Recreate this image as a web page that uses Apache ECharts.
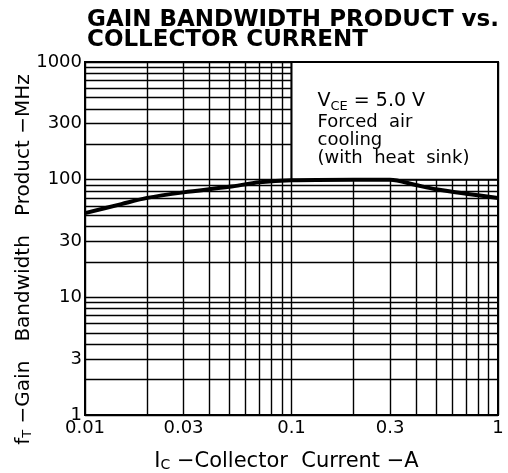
<!DOCTYPE html>
<html>
<head>
<meta charset="utf-8">
<script src="https://cdn.jsdelivr.net/npm/echarts@6/dist/echarts.min.js"></script>
<style>html,body{margin:0;padding:0;background:#fff}#c{width:508px;height:473px}</style>
</head>
<body>
<div id="c"></div>
<script>
// Data
var currentA = [0.01, 0.015, 0.02, 0.03, 0.05, 0.07, 0.1, 0.2, 0.3, 0.4, 0.5, 0.7, 1];
var ftMHz    = [52,   62,    70,   78,   87,   95,   99,  100, 100, 90,  83,  76,  70];
var xTickLabels = [0.01, 0.03, 0.1, 0.3, 1];
var yTickLabels = [1, 3, 10, 30, 100, 300, 1000];
var xGrid = [0.01,0.02,0.03,0.04,0.05,0.06,0.07,0.08,0.09,0.1,0.2,0.3,0.4,0.5,0.6,0.7,0.8,0.9,1];
var yGrid = [1,2,3,4,5,6,7,8,9,10,20,30,40,50,60,70,80,90,100,200,300,400,500,600,700,800,900,1000];
var noteBox = [[0.1, 100], [1, 1000]];

var FONT = 'DejaVu Sans';
var chart = echarts.init(document.getElementById('c'), null, {renderer: 'canvas'});
var gridLines = xGrid.map(function (v) { return {xAxis: v}; })
  .concat(yGrid.map(function (v) { return {yAxis: v}; }));

chart.setOption({
  animation: false,
  backgroundColor: '#fff',
  title: {
    text: 'GAIN BANDWIDTH PRODUCT vs.\nCOLLECTOR CURRENT',
    left: 82, top: 5,
    textStyle: {fontFamily: FONT, fontWeight: 'bold', fontSize: 23, lineHeight: 20, color: '#000'}
  },
  grid: {left: 85, right: 10, top: 62, bottom: 58, show: true, borderColor: '#000', borderWidth: 2,
    backgroundColor: '#fff', containLabel: false, outerBoundsMode: 'none'},
  xAxis: {
    type: 'log', logBase: 10, min: 0.01, max: 1,
    axisLine: {show: false}, axisTick: {show: false}, splitLine: {show: false},
    axisLabel: {customValues: xTickLabels, fontFamily: FONT, fontSize: 18, color: '#000', margin: 4,
      formatter: function (v) { return String(v); }},
    name: '{b|I}{s|C}{b| −Collector  Current −A}',
    nameLocation: 'middle', nameGap: 36, nameMoveOverlap: false,
    nameTextStyle: {padding: [0, 10, 0, 0], rich: {
      b: {fontFamily: FONT, fontSize: 21, color: '#000'},
      s: {fontFamily: FONT, fontSize: 14, color: '#000', verticalAlign: 'bottom', padding: [6, 0, 0, 0]}
    }}
  },
  yAxis: {
    type: 'log', logBase: 10, min: 1, max: 1000,
    axisLine: {show: false}, axisTick: {show: false}, splitLine: {show: false},
    axisLabel: {customValues: yTickLabels, fontFamily: FONT, fontSize: 18, color: '#000', margin: 3,
      formatter: function (v) { return String(v); }},
    name: '{b|f}{s|T}{b| −Gain   Bandwidth   Product −MHz}',
    nameLocation: 'middle', nameGap: 51, nameMoveOverlap: false,
    nameTextStyle: {padding: [0, 42, 0, 0], rich: {
      b: {fontFamily: FONT, fontSize: 20, color: '#000'},
      s: {fontFamily: FONT, fontSize: 13, color: '#000', verticalAlign: 'bottom', padding: [6, 0, 0, 0]}
    }}
  },
  series: [
    {
      type: 'line', data: [], silent: true, z: 1,
      markLine: {
        silent: true, symbol: ['none', 'none'], animation: false, z: 1,
        label: {show: false},
        lineStyle: {color: '#000', width: 1.4, type: 'solid'},
        emphasis: {disabled: true},
        data: gridLines
      }
    },
    {
      type: 'line', data: [], silent: true, z: 3,
      markArea: {
        silent: true, z: 3,
        itemStyle: {color: '#fff', opacity: 1, borderColor: '#000', borderWidth: 2},
        emphasis: {disabled: true},
        label: {
          show: true, position: 'insideTopLeft', distance: 0,
          padding: [28, 0, 0, 27],
          formatter: '{v|V}{c|CE}{v| = 5.0 V}\n{t|Forced  air}\n{t|cooling}\n{t|(with  heat  sink)}',
          rich: {
            v: {fontFamily: FONT, fontSize: 19, color: '#000', lineHeight: 24},
            c: {fontFamily: FONT, fontSize: 13, color: '#000', lineHeight: 24, verticalAlign: 'bottom', padding: [4, 0, 0, 0]},
            t: {fontFamily: FONT, fontSize: 18, color: '#000', lineHeight: 18}
          }
        },
        data: [[{coord: noteBox[0]}, {coord: noteBox[1]}]]
      }
    },
    {
      type: 'line', z: 10,
      data: currentA.map(function (x, i) { return [x, ftMHz[i]]; }),
      smooth: 0.3, symbol: 'none',
      lineStyle: {color: '#000', width: 4}
    }
  ]
});
</script>
</body>
</html>
